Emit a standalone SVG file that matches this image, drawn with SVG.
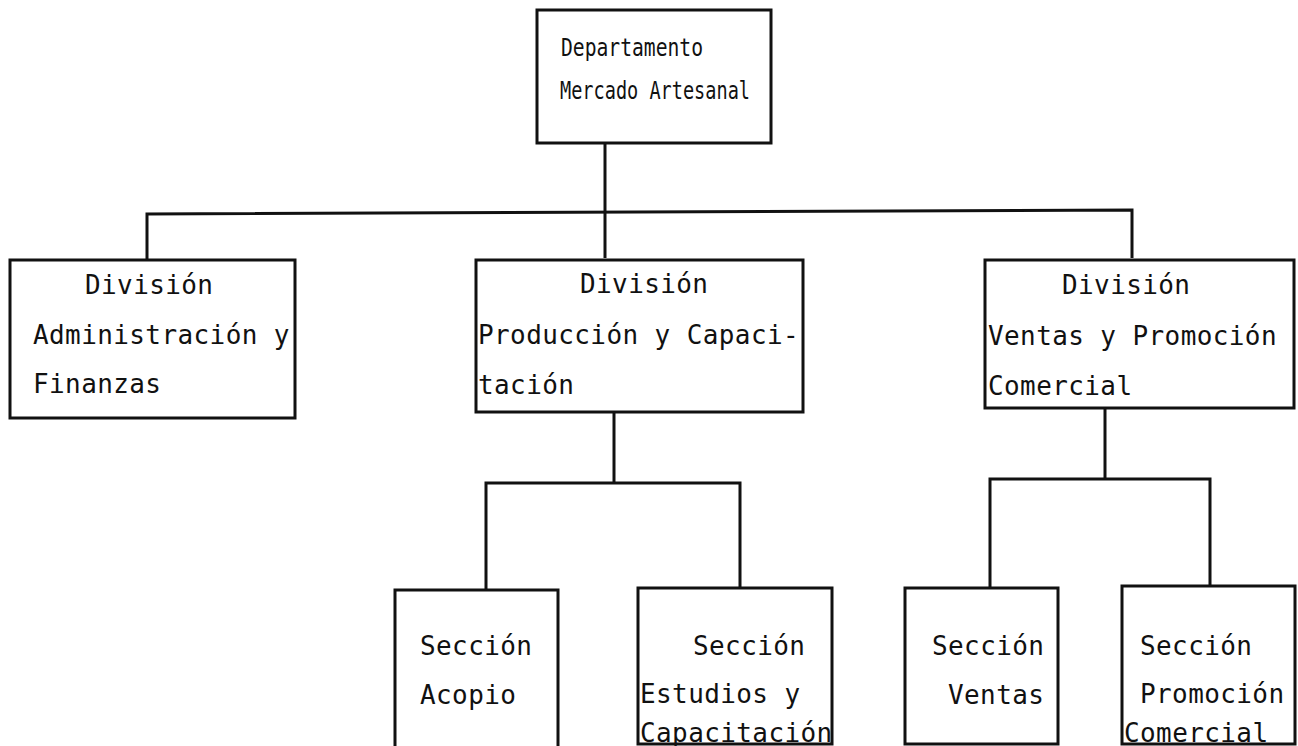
<svg xmlns="http://www.w3.org/2000/svg" width="1298" height="746" viewBox="0 0 1298 746">
<style>
.box{fill:#fff;stroke:#111;stroke-width:3}
.ln{fill:none;stroke:#111;stroke-width:3}
text{font-family:"DejaVu Sans Mono","Liberation Mono",monospace;font-size:26px;fill:#111;letter-spacing:0.4px}
.sm{font-size:24px;letter-spacing:0}
</style>
<rect width="1298" height="746" fill="#fff"/>
<g id="connectors">
<path class="ln" d="M605 143 V258"/>
<path class="ln" d="M147 260 V214 L1132 210 V258"/>
<path class="ln" d="M614 412 V483"/>
<path class="ln" d="M486 590 V483 H740 V588"/>
<path class="ln" d="M1105 408 V479"/>
<path class="ln" d="M990 588 V479 H1210 V586"/>
</g>
<g id="dept">
<rect class="box" x="537" y="10" width="234" height="133"/>
<text class="sm" x="561" y="56" textLength="142" lengthAdjust="spacingAndGlyphs">Departamento</text>
<text class="sm" x="560" y="99" textLength="190" lengthAdjust="spacingAndGlyphs">Mercado Artesanal</text>
</g>
<g id="div-admin">
<rect class="box" x="10" y="260" width="285" height="158"/>
<text x="85" y="294">División</text>
<text x="33" y="344">Administración y</text>
<text x="33" y="393">Finanzas</text>
</g>
<g id="div-prod">
<rect class="box" x="476" y="260" width="327" height="152"/>
<text x="580" y="293">División</text>
<text x="478" y="344">Producción y Capaci-</text>
<text x="478" y="394">tación</text>
</g>
<g id="div-ventas">
<rect class="box" x="985" y="260" width="309" height="148"/>
<text x="1062" y="294">División</text>
<text x="988" y="345">Ventas y Promoción</text>
<text x="988" y="395">Comercial</text>
</g>
<g id="sec-acopio">
<rect class="box" x="395" y="590" width="163" height="160"/>
<text x="420" y="655">Sección</text>
<text x="420" y="704">Acopio</text>
</g>
<g id="sec-estudios">
<rect class="box" x="638" y="588" width="194" height="156"/>
<text x="693" y="655">Sección</text>
<text x="640" y="703">Estudios y</text>
<text x="640" y="742">Capacitación</text>
</g>
<g id="sec-ventas">
<rect class="box" x="905" y="588" width="153" height="156"/>
<text x="932" y="655">Sección</text>
<text x="948" y="704">Ventas</text>
</g>
<g id="sec-promo">
<rect class="box" x="1122" y="586" width="173" height="158"/>
<text x="1140" y="655">Sección</text>
<text x="1140" y="703">Promoción</text>
<text x="1124" y="742">Comercial</text>
</g>
</svg>
